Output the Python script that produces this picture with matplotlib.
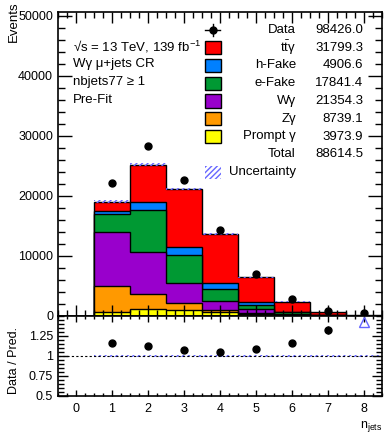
import numpy as np
import matplotlib
matplotlib.use('Agg')
import matplotlib.pyplot as plt
from matplotlib.ticker import MultipleLocator, FixedLocator, FixedFormatter
from matplotlib.patches import Rectangle
from matplotlib.lines import Line2D

plt.rcParams['font.family'] = ['Liberation Sans', 'DejaVu Sans']
plt.rcParams['mathtext.fontset'] = 'custom'
plt.rcParams['mathtext.rm'] = 'Liberation Sans'
plt.rcParams['mathtext.it'] = 'Liberation Sans:italic'

# bins of n_jets (bin 0 is empty)
n_jets = [1, 2, 3, 4, 5, 6, 7, 8]
data = [22100, 28320, 22690, 14280, 7000, 2770, 810, 456]

# stacked backgrounds, bottom to top
prompt_gamma = [720, 1110, 1000, 650, 300, 130, 45, 19]
z_gamma = [4330, 2560, 1170, 420, 180, 55, 18, 6]
w_gamma = [8850, 6900, 3330, 1450, 640, 140, 35, 9]
e_fake = [3050, 7000, 4610, 2050, 700, 300, 100, 30]
h_fake = [610, 1390, 1400, 900, 450, 110, 35, 12]
ttgamma = [1490, 6210, 9660, 8130, 4180, 1655, 377, 97]

# relative uncertainty on the total prediction
rel_unc = [0.010, 0.010, 0.010, 0.010, 0.010, 0.010, 0.012, 0.012]

legend_labels = ['Data', r'$\mathrm{t\bar{t}}$γ', 'h-Fake', 'e-Fake', 'Wγ', 'Zγ', 'Prompt γ', 'Total']
legend_yields = [98426.0, 31799.3, 4906.6, 17841.4, 21354.3, 8739.1, 3973.9, 88614.5]

info_lines = ['√s = 13 TeV, 139 fb$^{-1}$', 'Wγ μ+jets CR', 'nbjets77 ≥ 1', 'Pre-Fit']

ratio_ticks = [0.5, 0.75, 1, 1.25]
ratio_labels = ['0.5', '0.75', '1', '1.25']

colors = ['#ffff00', '#ff9900', '#9900cc', '#009933', '#0080ff', '#ff0000']
unc_color = '#6666ff'

W, H = 384, 434


def fx(x):
    return x / W


def fy(y):
    return 1 - y / H


fig = plt.figure(figsize=(W / 100, H / 100), dpi=100)
ax = fig.add_axes([fx(58), fy(316), fx(324), 304 / H])
rax = fig.add_axes([fx(58), fy(396), fx(324), 80 / H], sharex=ax)

edges = np.arange(0.5, 9.0, 1.0)
stack = np.array([prompt_gamma, z_gamma, w_gamma, e_fake, h_fake, ttgamma], dtype=float)
cum = np.cumsum(stack, axis=0)
total = cum[-1]
unc = total * np.array(rel_unc)

# draw the stack from the top down so each layer covers the one above
for i in reversed(range(len(stack))):
    ax.stairs(cum[i], edges, baseline=0, fill=True, facecolor=colors[i],
              edgecolor='black', linewidth=1.0)

ax.stairs(total + unc, edges, baseline=total - unc, fill=True, facecolor='none',
          edgecolor=unc_color, hatch='//////', linewidth=0)

data = np.array(data, dtype=float)
ax.errorbar(n_jets, data, yerr=np.sqrt(data), fmt='o', color='black', ms=5,
            elinewidth=1, capsize=0)

ax.set_xlim(-0.5, 8.5)
ax.set_ylim(0, 50600)
ax.yaxis.set_major_locator(MultipleLocator(10000))
ax.yaxis.set_minor_locator(MultipleLocator(2000))
ax.xaxis.set_major_locator(MultipleLocator(1))
ax.xaxis.set_minor_locator(MultipleLocator(0.25))
ax.tick_params(which='both', direction='in', top=True, right=True, labelbottom=False,
               labelsize=9, width=1)
ax.tick_params(axis='y', which='major', length=10)
ax.tick_params(axis='y', which='minor', length=5)
ax.tick_params(axis='x', which='major', length=8)
ax.tick_params(axis='x', which='minor', length=4)
ax.set_ylabel('Events', fontsize=9.5, loc='top')
ax.yaxis.set_label_coords(-0.117, 1.036)

for i, line in enumerate(info_lines):
    fig.text(fx(73), fy(46.7 + 17.8 * i), line, ha='left', va='center', fontsize=9.5)

# legend built by hand (label + yield columns)
row0, step = 30, 17.75
for i, (lab, val) in enumerate(zip(legend_labels, legend_yields)):
    y = row0 + step * i
    fig.text(fx(296), fy(y), lab, ha='right', va='center', fontsize=9.5)
    fig.text(fx(363), fy(y), f'{val:.1f}', ha='right', va='center', fontsize=9.5)
    if i == 0:
        fig.add_artist(Line2D([fx(205), fx(220)], [fy(y), fy(y)], color='black', lw=1,
                              transform=fig.transFigure))
        fig.add_artist(Line2D([fx(212.5), fx(212.5)], [fy(y - 6), fy(y + 6)], color='black',
                              lw=1, transform=fig.transFigure))
        fig.add_artist(Line2D([fx(212.5)], [fy(y)], marker='o', ms=5, color='black',
                              transform=fig.transFigure))
    elif i <= len(colors):
        fig.add_artist(Rectangle((fx(205), fy(y + 6.5)), fx(15.7), 13 / H,
                                 facecolor=colors[len(colors) - i], edgecolor='black', lw=1,
                                 transform=fig.transFigure))
y_unc = row0 + step * len(legend_labels)
fig.add_artist(Rectangle((fx(205), fy(y_unc + 6.5)), fx(15.7), 13 / H, facecolor='none',
                         edgecolor=unc_color, hatch='//////', lw=0, transform=fig.transFigure))
fig.text(fx(229), fy(y_unc), 'Uncertainty', ha='left', va='center', fontsize=9.5)

# ratio panel
ratio = data / total
r_lo, r_hi = 0.5, 1.5
inside = ratio < r_hi
rax.stairs(1 + np.array(rel_unc), edges, baseline=1 - np.array(rel_unc), fill=True,
           facecolor='none', edgecolor=unc_color, hatch='//////', linewidth=0)
rax.axhline(1, color='black', ls=(0, (2, 2)), lw=0.8)
rax.errorbar(np.array(n_jets)[inside], ratio[inside], yerr=(np.sqrt(data) / total)[inside],
             fmt='o', color='black', ms=5, elinewidth=1, capsize=0)
rax.plot(np.array(n_jets)[~inside], np.full((~inside).sum(), r_hi - 0.07), marker='^',
         ls='none', ms=7, mfc='none', mec=unc_color, mew=1)

rax.set_ylim(r_lo, r_hi)
rax.yaxis.set_major_locator(FixedLocator(ratio_ticks))
rax.yaxis.set_major_formatter(FixedFormatter(ratio_labels))
rax.yaxis.set_minor_locator(MultipleLocator(0.05))
rax.tick_params(which='both', direction='in', top=True, right=True, labelsize=9, width=1)
rax.tick_params(axis='y', which='major', length=7)
rax.tick_params(axis='y', which='minor', length=4)
rax.tick_params(axis='x', which='major', length=4, pad=5)
rax.tick_params(axis='x', which='minor', length=2)
rax.set_ylabel('Data / Pred.', fontsize=9)
rax.yaxis.set_label_coords(-0.117, 0.45)
rax.set_xlabel(r'n$_{\mathrm{jets}}$', fontsize=9, loc='right')
rax.xaxis.set_label_coords(1.0, -0.29)

for a in (ax, rax):
    for s in a.spines.values():
        s.set_linewidth(1.2)

fig.savefig('out.png', dpi=100)
